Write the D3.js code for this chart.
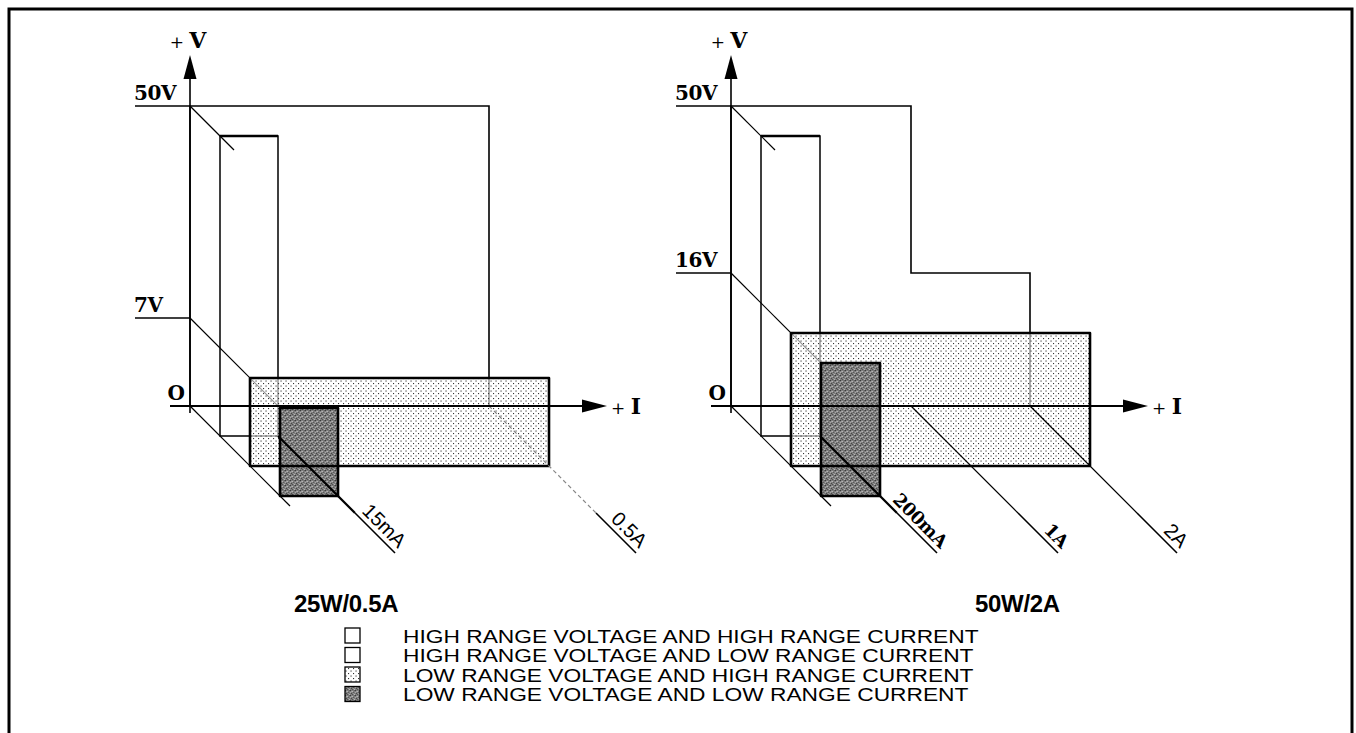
<!DOCTYPE html>
<html>
<head>
<meta charset="utf-8">
<script src="https://cdn.jsdelivr.net/npm/d3@7.9.0/dist/d3.min.js"></script>
<style>
  body { margin: 0; background: #fff; }
  svg { display: block; }
</style>
</head>
<body>
<div id="chart"></div>
<script>
// panel titles
const panels = ['25W/0.5A', '50W/2A'];

// voltage limits (V) and their labels
const voltLevels = [[7, 50], [16, 50]];
const voltLabels = [['7V', '50V'], ['16V', '50V']];

// current limits (A) and their labels
const currLevels = [[0.015, 0.5], [0.2, 1, 2]];
const currLabels = [['15mA', '0.5A'], ['200mA', '1A', '2A']];

// operating envelopes as [I, V] corners, one list per range combination
const envHH = [
  [[0, 50], [0.5, 50], [0.5, 0]],
  [[0, 50], [1, 50], [1, 16], [2, 16], [2, 0]]
];
const envHL = [
  [[0, 50], [0.015, 50], [0.015, 0]],
  [[0, 50], [0.2, 50], [0.2, 0]]
];
const envLH = [
  [[0, 7], [0.5, 7], [0.5, 0]],
  [[0, 16], [2, 16], [2, 0]]
];
const envLL = [
  [[0, 7], [0.015, 7], [0.015, 0]],
  [[0, 16], [0.2, 16], [0.2, 0]]
];

const legendLabels = [
  'HIGH RANGE VOLTAGE AND HIGH RANGE CURRENT',
  'HIGH RANGE VOLTAGE AND LOW RANGE CURRENT',
  'LOW RANGE VOLTAGE AND HIGH RANGE CURRENT',
  'LOW RANGE VOLTAGE AND LOW RANGE CURRENT'
];

const width = 1356;
const height = 733;
const serif = '"DejaVu Serif", "Liberation Serif", serif';
const sans = '"Liberation Sans", Arial, sans-serif';
const serifCurr = new Set(['200mA', '1A']);   // these labels are set in the serif face

const svg = d3.select('#chart')
  .append('svg')
  .attr('width', width)
  .attr('height', height);

// fill patterns
const defs = svg.append('defs');
const dots = defs.append('pattern')
  .attr('id', 'dots')
  .attr('patternUnits', 'userSpaceOnUse')
  .attr('width', 5).attr('height', 5);
dots.append('rect').attr('width', 5).attr('height', 5).attr('fill', '#fff').attr('fill-opacity', 0.6);
dots.append('rect').attr('x', 0.5).attr('y', 0.5).attr('width', 1.1).attr('height', 1.1).attr('fill', '#333');
dots.append('rect').attr('x', 3).attr('y', 3).attr('width', 1.1).attr('height', 1.1).attr('fill', '#333');

const grain = defs.append('pattern')
  .attr('id', 'grain')
  .attr('patternUnits', 'userSpaceOnUse')
  .attr('width', 5).attr('height', 5);
grain.append('rect').attr('width', 5).attr('height', 5).attr('fill', '#7c7c7c');
[[0, 0, '#3a3a3a'], [2, 1, '#b5b5b5'], [1, 3, '#474747'], [3, 2, '#5a5a5a'], [1, 1, '#a0a0a0'],
 [4, 0, '#626262'], [4, 4, '#b8b8b8'], [0, 2, '#a8a8a8'], [2, 4, '#525252'], [3, 3, '#959595']]
  .forEach(([x, y, c]) => grain.append('rect').attr('x', x).attr('y', y).attr('width', 1).attr('height', 1).attr('fill', c));

// outer frame
svg.append('rect')
  .attr('x', 9).attr('y', 9)
  .attr('width', 1343).attr('height', 760)
  .attr('fill', 'none').attr('stroke', '#000').attr('stroke-width', 3);

// layout of each schematic panel
const layout = [
  { ax: 190, oy: 406, vRange: [0, 88, 300], iRange: [0, 58, 299], title: [294, 612] },
  { ax: 731, oy: 406, vRange: [0, 133, 300], iRange: [0, 59, 180, 299], title: [975, 612] }
];
const step = 30;       // depth offset between range planes
const iEnd = 147;      // depth where current label lines end
const uLen = 40;       // solid underline under each current label

panels.forEach((title, p) => {
  const L = layout[p];
  const yV = d3.scaleLinear().domain([0, ...voltLevels[p]]).range(L.vRange);
  const xI = d3.scaleLinear().domain([0, ...currLevels[p]]).range(L.iRange);
  const pt = (i, v, d) => [L.ax + xI(i) + d, L.oy - yV(v) + d];
  const g = svg.append('g');

  const planes = [
    { env: envHH[p], k: 0, fill: 'none', sw: 1.6 },
    { env: envHL[p], k: 1, fill: 'none', sw: 1.5 },
    { env: envLH[p], k: 2, fill: 'url(#dots)', sw: 2.6 },
    { env: envLL[p], k: 3, fill: 'url(#grain)', sw: 2.6 }
  ];
  const poly = pl => [[0, 0], ...pl.env].map(([i, v]) => pt(i, v, pl.k * step));
  const line = d3.line();

  // back planes (outlines only)
  planes.slice(0, 2).forEach(pl => {
    g.append('path')
      .attr('d', line(poly(pl)) + 'Z')
      .attr('fill', 'none').attr('stroke', '#000').attr('stroke-width', pl.sw);
  });
  // heavier top edge of the low-current plane
  {
    const pl = planes[1];
    g.append('path')
      .attr('d', line(pl.env.slice(0, 2).map(([i, v]) => pt(i, v, pl.k * step))))
      .attr('fill', 'none').attr('stroke', '#000').attr('stroke-width', 2.4);
  }

  // voltage level stubs and depth lines
  voltLevels[p].forEach((v, j) => {
    const lastK = d3.max(planes.filter(pl => pl.env[0][1] === v), pl => pl.k);
    const [x0, y0] = pt(0, v, 0);
    g.append('line')
      .attr('x1', x0 - 55).attr('y1', y0).attr('x2', x0).attr('y2', y0)
      .attr('stroke', '#000').attr('stroke-width', 1.5);
    const [x1, y1] = pt(0, v, lastK * step + 14);
    g.append('line')
      .attr('x1', x0).attr('y1', y0).attr('x2', x1).attr('y2', y1)
      .attr('stroke', '#000').attr('stroke-width', 1.2);
    g.append('text')
      .attr('x', x0 - 56).attr('y', y0 - 6)
      .attr('font-family', serif).attr('font-weight', 'bold').attr('font-size', 20)
      .attr('letter-spacing', -0.4)
      .text(voltLabels[p][j]);
  });

  // origin depth line
  {
    const [x0, y0] = pt(0, 0, 0);
    const [x1, y1] = pt(0, 0, 3 * step + 10);
    g.append('line')
      .attr('x1', x0).attr('y1', y0).attr('x2', x1).attr('y2', y1)
      .attr('stroke', '#000').attr('stroke-width', 1.2);
  }

  // front planes with fills
  planes.slice(2).forEach(pl => {
    g.append('path')
      .attr('d', line(poly(pl)) + 'Z')
      .attr('fill', pl.fill);
  });
  planes.slice(2).forEach(pl => {
    g.append('path')
      .attr('d', line(poly(pl)) + 'Z')
      .attr('fill', 'none').attr('stroke', '#000').attr('stroke-width', pl.sw)
      .attr('stroke-linejoin', 'round');
  });

  // current depth lines with labels
  const maxI = d3.max(currLevels[p]);
  currLevels[p].forEach((i, j) => {
    const firstK = d3.min(planes.filter(pl => pl.env.some(c => c[0] === i)), pl => pl.k);
    const [x0, y0] = pt(i, 0, firstK * step);
    const [x1, y1] = pt(i, 0, iEnd);
    const [xu, yu] = pt(i, 0, iEnd - uLen);
    const faint = p === 0 && i === maxI;
    g.append('line')
      .attr('x1', x0).attr('y1', y0).attr('x2', xu).attr('y2', yu)
      .attr('stroke', faint ? '#888' : '#000')
      .attr('stroke-width', firstK > 0 ? 2.2 : 1.2)
      .attr('stroke-dasharray', faint ? '4,3' : null);
    g.append('line')
      .attr('x1', xu).attr('y1', yu).attr('x2', x1).attr('y2', y1)
      .attr('stroke', '#000').attr('stroke-width', 1.6);
    const lab = currLabels[p][j];
    const isSerif = serifCurr.has(lab);
    g.append('text')
      .attr('transform', `translate(${x1 + 3},${y1 - 4}) rotate(45)`)
      .attr('text-anchor', 'end')
      .attr('font-family', isSerif ? serif : sans)
      .attr('font-weight', isSerif ? 'bold' : 'normal')
      .attr('font-size', isSerif ? 18 : 20)
      .attr('letter-spacing', isSerif ? -0.5 : 0)
      .text(lab);
  });

  // axes
  const tipV = L.oy - 351;
  g.append('line')
    .attr('x1', L.ax).attr('y1', L.oy + 7).attr('x2', L.ax).attr('y2', tipV + 20)
    .attr('stroke', '#000').attr('stroke-width', 1.6);
  g.append('path')
    .attr('d', `M${L.ax},${tipV}L${L.ax - 6.5},${tipV + 24}L${L.ax + 6.5},${tipV + 24}Z`)
    .attr('fill', '#000');
  const tipI = L.ax + 417;
  g.append('line')
    .attr('x1', L.ax - 20).attr('y1', L.oy).attr('x2', tipI - 20).attr('y2', L.oy)
    .attr('stroke', '#000').attr('stroke-width', 2.2);
  g.append('path')
    .attr('d', `M${tipI},${L.oy}L${tipI - 25},${L.oy - 6.5}L${tipI - 25},${L.oy + 6.5}Z`)
    .attr('fill', '#000');

  const vLab = g.append('text')
    .attr('x', L.ax - 2).attr('y', tipV - 7)
    .attr('text-anchor', 'middle')
    .attr('font-family', serif).attr('font-size', 22);
  vLab.append('tspan').attr('font-size', 17).text('+ ');
  vLab.append('tspan').attr('font-weight', 'bold').text('V');
  const iLab = g.append('text')
    .attr('x', tipI + 4).attr('y', L.oy + 8)
    .attr('font-family', serif).attr('font-size', 22);
  iLab.append('tspan').attr('font-size', 17).text('+ ');
  iLab.append('tspan').attr('font-weight', 'bold').text('I');
  g.append('text')
    .attr('x', L.ax - 5).attr('y', L.oy - 6)
    .attr('text-anchor', 'end')
    .attr('font-family', serif).attr('font-weight', 'bold').attr('font-size', 20)
    .text('O');

  // panel title
  g.append('text')
    .attr('x', L.title[0]).attr('y', L.title[1])
    .attr('font-family', sans).attr('font-weight', 'bold').attr('font-size', 24)
    .attr('letter-spacing', -0.3)
    .text(title);
});

// legend
const legendFills = ['#fff', '#fff', 'url(#dots)', 'url(#grain)'];
const legend = svg.append('g');
legendLabels.forEach((label, k) => {
  const y = 636 + k * 19.5;
  legend.append('rect')
    .attr('x', 345).attr('y', y - 8).attr('width', 15).attr('height', 15)
    .attr('fill', legendFills[k]).attr('stroke', '#000').attr('stroke-width', 1.3);
  const t = legend.append('text')
    .attr('x', 403).attr('y', y + 6.5)
    .attr('font-family', sans).attr('font-size', 17.5)
    .text(label);
  const natural = t.node().getComputedTextLength();
  t.attr('textLength', natural * 1.3).attr('lengthAdjust', 'spacingAndGlyphs');
});
</script>
</body>
</html>
